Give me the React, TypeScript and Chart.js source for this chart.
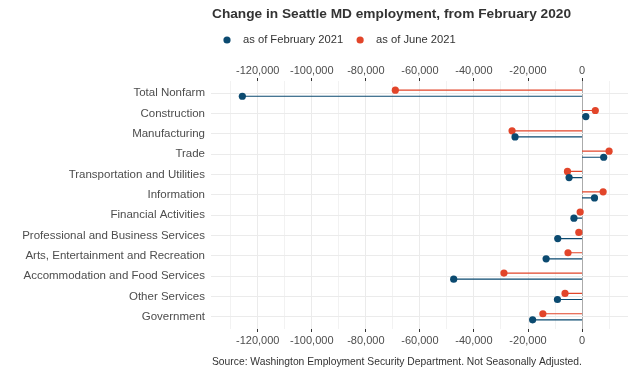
import React, { useEffect, useRef } from 'react';
import { Chart, registerables } from 'chart.js';

Chart.register(...registerables);

const TITLE = 'Change in Seattle MD employment, from February 2020';
const CAPTION = 'Source: Washington Employment Security Department. Not Seasonally Adjusted.';

const CATEGORIES = [
  'Total Nonfarm',
  'Construction',
  'Manufacturing',
  'Trade',
  'Transportation and Utilities',
  'Information',
  'Financial Activities',
  'Professional and Business Services',
  'Arts, Entertainment and Recreation',
  'Accommodation and Food Services',
  'Other Services',
  'Government',
];

const FEB_2021 = [-125700, 1400, -24800, 8000, -4800, 4600, -3000, -9000, -13300, -47500, -9100, -18300];
const JUN_2021 = [-69100, 4900, -25900, 10000, -5400, 7800, -700, -1200, -5200, -28900, -6300, -14500];

const SERIES_LABELS = ['as of February 2021', 'as of June 2021'];
const SERIES_COLORS = ['#0b4a70', '#e2452a'];

const X_TICKS = [-130000, -120000, -110000, -100000, -90000, -80000, -70000, -60000, -50000, -40000, -30000, -20000, -10000, 0, 10000];
const X_LABELED = [-120000, -100000, -80000, -60000, -40000, -20000, 0];
const X_MIN = -137300;
const X_MAX = 17000;

const DODGE = 0.15;
const FONT = '"Liberation Sans", Arial, Helvetica, sans-serif';

function lollipopData(values: number[], offset: number) {
  const out: { x: number; y: number }[] = [];
  values.forEach((v, i) => {
    out.push({ x: 0, y: i + offset });
    out.push({ x: v, y: i + offset });
    out.push({ x: NaN, y: NaN });
  });
  return out;
}

const fmt = (v: number) => (v === 0 ? '0' : v.toLocaleString('en-US'));

const textPlugin = {
  id: 'texts',
  afterDraw(chart: any) {
    const ctx = chart.ctx as CanvasRenderingContext2D;
    const left = chart.chartArea.left;
    ctx.save();
    ctx.textAlign = 'left';
    ctx.textBaseline = 'middle';
    ctx.fillStyle = '#333333';
    ctx.font = `bold 13.7px ${FONT}`;
    ctx.fillText(TITLE, left + 1, 14);

    ctx.font = `11.2px ${FONT}`;
    let x = left + 16;
    SERIES_LABELS.forEach((lab, i) => {
      ctx.beginPath();
      ctx.fillStyle = SERIES_COLORS[i];
      ctx.arc(x, 40, 3.6, 0, Math.PI * 2);
      ctx.fill();
      ctx.fillStyle = '#333333';
      ctx.fillText(lab, x + 16, 40);
      x += 16 + ctx.measureText(lab).width + 17;
    });

    ctx.font = `10.3px ${FONT}`;
    ctx.fillStyle = '#333333';
    ctx.fillText(CAPTION, left + 1, 362);
    ctx.restore();
  },
};

function xScale(position: 'top' | 'bottom', onArea: boolean) {
  return {
    type: 'linear' as const,
    position,
    min: X_MIN,
    max: X_MAX,
    afterBuildTicks: (scale: any) => {
      scale.ticks = X_TICKS.map((v) => ({ value: v }));
    },
    afterFit: (scale: any) => {
      scale.height = 20;
    },
    border: { display: false },
    grid: {
      drawOnChartArea: onArea,
      drawTicks: true,
      tickLength: 3,
      tickWidth: 1,
      tickColor: (c: any) => (X_LABELED.includes(c.tick?.value) ? '#333333' : 'rgba(0,0,0,0)'),
      color: (c: any) => {
        const v = c.tick?.value;
        if (v === 0) return '#ababab';
        return X_LABELED.includes(v) ? '#ebebeb' : '#f2f2f2';
      },
      lineWidth: 1,
    },
    ticks: {
      autoSkip: false,
      maxRotation: 0,
      padding: position === 'top' ? 0 : 2,
      color: '#4d4d4d',
      font: { family: FONT, size: 11 },
      callback: (v: any) => (X_LABELED.includes(v) ? fmt(v) : ''),
    },
  };
}

export default function App() {
  const ref = useRef<HTMLCanvasElement>(null);
  useEffect(() => {
    if (!ref.current) return;
    const offsets = [DODGE, -DODGE];
    const chart = new Chart(ref.current, {
      type: 'line',
      data: {
        datasets: [FEB_2021, JUN_2021].map((vals, k) => ({
          label: SERIES_LABELS[k],
          data: lollipopData(vals, offsets[k]),
          borderColor: SERIES_COLORS[k],
          backgroundColor: SERIES_COLORS[k],
          borderWidth: 1.2,
          pointBackgroundColor: SERIES_COLORS[k],
          pointBorderWidth: 0,
          pointRadius: (c: any) => (c.dataIndex % 3 === 1 ? 3.6 : 0),
          pointHoverRadius: 0,
          spanGaps: false,
          tension: 0,
          xAxisID: 'x',
          yAxisID: 'y',
        })),
      },
      plugins: [textPlugin],
      options: {
        animation: false,
        responsive: true,
        maintainAspectRatio: false,
        events: [],
        layout: { padding: { top: 61, bottom: 38, left: 0, right: 15 } },
        plugins: {
          legend: { display: false },
          title: { display: false },
          tooltip: { enabled: false },
        },
        scales: {
          x: xScale('bottom', true),
          x2: xScale('top', false),
          y: {
            type: 'linear',
            reverse: true,
            min: -0.6,
            max: CATEGORIES.length - 0.4,
            afterBuildTicks: (scale: any) => {
              scale.ticks = CATEGORIES.map((_, i) => ({ value: i }));
            },
            afterFit: (scale: any) => {
              scale.width = 211;
            },
            border: { display: false },
            grid: { color: '#ebebeb', lineWidth: 1, drawTicks: false },
            ticks: {
              autoSkip: false,
              padding: 6,
              color: '#4d4d4d',
              font: { family: FONT, size: 11.5 },
              callback: (v: any) => CATEGORIES[v] ?? '',
            },
          },
        },
      } as any,
    });
    return () => chart.destroy();
  }, []);

  return (
    <div style={{ position: 'fixed', left: 0, top: 0, width: 643, height: 387, background: '#ffffff' }}>
      <canvas ref={ref} />
    </div>
  );
}
